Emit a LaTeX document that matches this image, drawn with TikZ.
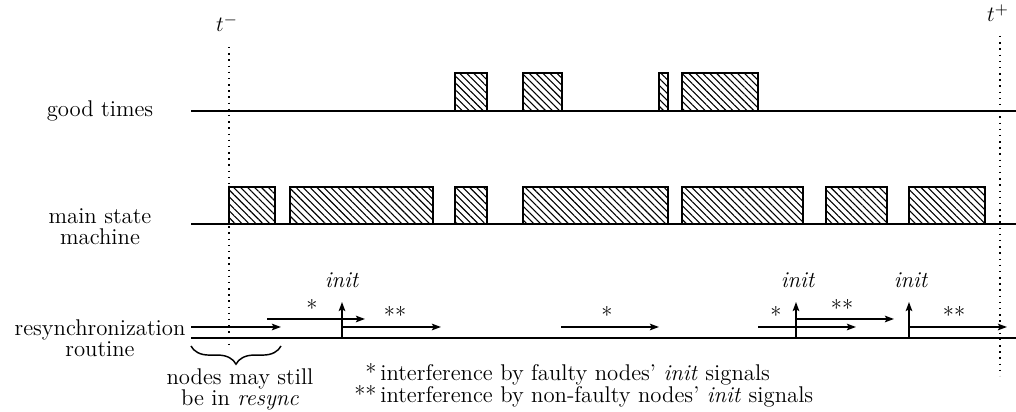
\documentclass[tikz,border=0pt]{standalone}
\usepackage{fontspec}
\usetikzlibrary{arrows.meta,patterns.meta,decorations.pathreplacing}
\begin{document}
\begin{tikzpicture}[x=0.55pt,y=-0.55pt,
  font=\fontsize{12.5}{11.6}\selectfont,
  timeline/.style={line width=0.9pt},
  busy/.style={draw,line width=0.7pt,
    pattern={Lines[angle=-45,distance=2.7pt,line width=0.6pt]}},
  sig/.style={line width=0.9pt,-{Stealth[length=5pt,width=3.6pt,inset=1pt]}},
  bound/.style={line width=0.8pt,dash pattern=on 0.8pt off 2.6pt},
  lbl/.style={align=center,inner sep=0pt},
  tag/.style={anchor=base,inner sep=0pt}]
\useasboundingbox (0,0) rectangle (1016,412);

% row labels
\node[lbl] (gtlabel) at (100,111) {good times};
\node[lbl] (msmlabel) at (100,227) {main state\\machine};
\node[lbl] (rslabel) at (100,338) {resynchronization\\routine};

% time axes
\coordinate (gtL) at (191,111);  \coordinate (gtR) at (1016,111);
\coordinate (msL) at (191,224);  \coordinate (msR) at (1016,224);
\coordinate (rsL) at (191,338);  \coordinate (rsR) at (1016,338);
\draw[timeline] (gtL) -- (gtR);
\draw[timeline] (msL) -- (msR);
\draw[timeline] (rsL) -- (rsR);

% good times intervals
\foreach \a/\b in {455/487,523/562,659/668,682/758}
  \draw[busy] (\a,73) rectangle (\b,111);
% main state machine intervals
\foreach \a/\b in {229/275,290/433,455/487,523/668,682/803,826/887,909/985}
  \draw[busy] (\a,187) rectangle (\b,224);

% interval bounds t^- and t^+
\node[tag] (tminus) at (227,32) {$t^-$};
\node[tag] (tplus) at (998,22) {$t^+$};
\coordinate (tmTop) at (229,47);   \coordinate (tmBot) at (229,345);
\coordinate (tpTop) at (1000,36);  \coordinate (tpBot) at (1000,376);
\draw[bound] (tmTop) -- (tmBot);
\draw[bound] (tpTop) -- (tpBot);

% resynchronization signals
\coordinate (a1s) at (191,327); \coordinate (a1e) at (281,327);
\coordinate (a2s) at (267,319); \coordinate (a2e) at (365,319);
\coordinate (u1s) at (342,338); \coordinate (u1e) at (342,302);
\coordinate (a3s) at (342,327); \coordinate (a3e) at (441,327);
\coordinate (a4s) at (561,327); \coordinate (a4e) at (659,327);
\coordinate (a5s) at (758,327); \coordinate (a5e) at (856,327);
\coordinate (u2s) at (796,338); \coordinate (u2e) at (796,302);
\coordinate (a6s) at (796,319); \coordinate (a6e) at (894,319);
\coordinate (u3s) at (909,338); \coordinate (u3e) at (909,302);
\coordinate (a7s) at (909,327); \coordinate (a7e) at (1007,327);
\foreach \s/\e in {a1s/a1e,a2s/a2e,u1s/u1e,a3s/a3e,a4s/a4e,a5s/a5e,
                   u2s/u2e,a6s/a6e,u3s/u3e,a7s/a7e}
  \draw[sig] (\s) -- (\e);

% init labels
\node[tag] (init1) at (342,288) {\textit{init}};
\node[tag] (init2) at (798,288) {\textit{init}};
\node[tag] (init3) at (911,288) {\textit{init}};

% interference marks
\node[tag] (s1) at (312,317) {*};
\node[tag] (s2) at (395,324) {**};
\node[tag] (s3) at (607,324) {*};
\node[tag] (s4) at (776,324) {*};
\node[tag] (s5) at (842,317) {**};
\node[tag] (s6) at (954,324) {**};

% brace over the start of the routine
\coordinate (brL) at (191,346); \coordinate (brR) at (281,346);
\draw[line width=0.8pt,decorate,decoration={brace,amplitude=10pt,mirror}] (brL) -- (brR);
\node[lbl] (resyncnote) at (240,389) {nodes may still\\be in \textit{resync}};

% legend
\node[anchor=base west,inner sep=0pt] (leg1) at (380,381)
  {\llap{*\,}interference by faulty nodes’ \textit{init} signals};
\node[anchor=base west,inner sep=0pt] (leg2) at (380,403)
  {\llap{**\,}interference by non-faulty nodes’ \textit{init} signals};
\end{tikzpicture}
\end{document}
